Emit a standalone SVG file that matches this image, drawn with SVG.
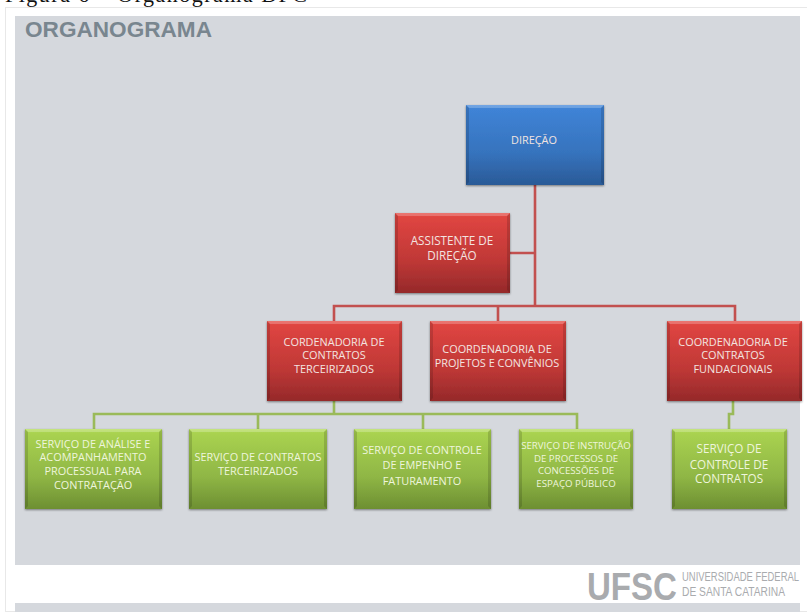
<svg xmlns="http://www.w3.org/2000/svg" width="807" height="612" viewBox="0 0 807 612">
<defs>
<linearGradient id="b" x1="0" y1="0" x2="0" y2="1"><stop offset="0" stop-color="#4a8cdc"/><stop offset=".05" stop-color="#3f83d6"/><stop offset=".6" stop-color="#3673bd"/><stop offset="1" stop-color="#2a5a97"/></linearGradient>
<linearGradient id="r" x1="0" y1="0" x2="0" y2="1"><stop offset="0" stop-color="#e65048"/><stop offset=".05" stop-color="#df4541"/><stop offset=".6" stop-color="#bf3836"/><stop offset="1" stop-color="#95292a"/></linearGradient>
<linearGradient id="g" x1="0" y1="0" x2="0" y2="1"><stop offset="0" stop-color="#b5dc5c"/><stop offset=".05" stop-color="#a9d250"/><stop offset=".6" stop-color="#8fb645"/><stop offset="1" stop-color="#6d8f32"/></linearGradient>
<filter id="s" x="-5%" y="-5%" width="110%" height="112%"><feDropShadow dx="0" dy="1" stdDeviation="1" flood-color="#000" flood-opacity=".45"/></filter>
</defs>
<style>
text{font-family:"Open Sans","Liberation Sans",sans-serif;text-anchor:middle;font-size:10.9px;fill:#f3e4e0}
.gt{fill:#eef5dc}
.cr{fill:none;stroke:#c2504f;stroke-width:2.6}
.cg{fill:none;stroke:#9aba59;stroke-width:2.6}
.top{fill:#fff;fill-opacity:.22}
.side{fill:#000;fill-opacity:.14}
.lg{font-family:"Liberation Sans",sans-serif;text-anchor:start;fill:#a9abae}
</style>
<rect width="807" height="612" fill="#fff"/>
<rect x="5.500" y="7.500" width="802" height="604" fill="#fff" stroke="#e8e8e8"/>
<text x="5" y="2" textLength="302" lengthAdjust="spacing" style="font-family:'Liberation Serif',serif;font-size:22px;text-anchor:start;fill:#111">Figura 6 – Organograma DPC</text>
<rect x="15" y="16" width="785" height="549" fill="#d5d8dd"/>
<rect x="15" y="603" width="785" height="9" fill="#d5d8dd"/>
<text x="25" y="37" textLength="187" lengthAdjust="spacingAndGlyphs" style="font-family:'Liberation Sans',sans-serif;font-weight:700;font-size:22.500px;text-anchor:start;fill:#79868f">ORGANOGRAMA</text>
<g id="logo">
<text class="lg" x="587" y="600" textLength="90" lengthAdjust="spacingAndGlyphs" style="font-weight:700;font-size:39px">UFSC</text>
<text class="lg" x="682" y="581" textLength="117" lengthAdjust="spacingAndGlyphs" style="font-size:12.500px">UNIVERSIDADE FEDERAL</text>
<text class="lg" x="682" y="596" textLength="103" lengthAdjust="spacingAndGlyphs" style="font-size:12.500px">DE SANTA CATARINA</text>
</g>
<g id="connectors">
<path class="cr" d="M535 185V306M510 253H535M334 321V306H735V321M498 321V306"/>
<path class="cg" d="M334 401V415M94 429V414H577V429M258 429V414M423 429V414M733 401V414H729V429"/>
</g>
<g id="direcao"><rect x="466" y="105" width="138" height="80" fill="url(#b)" filter="url(#s)"/><path class="top" d="M466 105h138l-3 3h-132z"/><path class="side" d="M466 105l3 3v74l-3 3zM604 105l-3 3v74l3 3z"/><text x="534" y="144">DIREÇÃO</text></g>
<g id="assistente"><rect x="395" y="213" width="115" height="80" fill="url(#r)" filter="url(#s)"/><path class="top" d="M395 213h115l-3 3h-109z"/><path class="side" d="M395 213l3 3v74l-3 3zM510 213l-3 3v74l3 3z"/><text x="452" y="245" style="font-size:11.700px">ASSISTENTE DE</text><text x="452" y="260" style="font-size:11.700px">DIREÇÃO</text></g>
<g id="cord-terceirizados"><rect x="267" y="321" width="135" height="80" fill="url(#r)" filter="url(#s)"/><path class="top" d="M267 321h135l-3 3h-129z"/><path class="side" d="M267 321l3 3v74l-3 3zM402 321l-3 3v74l3 3z"/><text x="334" y="346">CORDENADORIA DE</text><text x="334" y="359">CONTRATOS</text><text x="334" y="373">TERCEIRIZADOS</text></g>
<g id="coord-projetos"><rect x="430" y="321" width="136" height="80" fill="url(#r)" filter="url(#s)"/><path class="top" d="M430 321h136l-3 3h-130z"/><path class="side" d="M430 321l3 3v74l-3 3zM566 321l-3 3v74l3 3z"/><text x="497" y="353">COORDENADORIA DE</text><text x="497" y="367">PROJETOS E CONVÊNIOS</text></g>
<g id="coord-fundacionais"><rect x="667" y="321" width="135" height="80" fill="url(#r)" filter="url(#s)"/><path class="top" d="M667 321h135l-3 3h-129z"/><path class="side" d="M667 321l3 3v74l-3 3zM802 321l-3 3v74l3 3z"/><text x="733" y="346">COORDENADORIA DE</text><text x="733" y="359">CONTRATOS</text><text x="733" y="373">FUNDACIONAIS</text></g>
<g id="serv-analise"><rect x="25" y="429" width="137" height="80" fill="url(#g)" filter="url(#s)"/><path class="top" d="M25 429h137l-3 3h-131z"/><path class="side" d="M25 429l3 3v74l-3 3zM162 429l-3 3v74l3 3z"/><text class="gt" x="93" y="448">SERVIÇO DE ANÁLISE E</text><text class="gt" x="93" y="461">ACOMPANHAMENTO</text><text class="gt" x="93" y="475">PROCESSUAL PARA</text><text class="gt" x="93" y="489">CONTRATAÇÃO</text></g>
<g id="serv-contratos"><rect x="189" y="429" width="138" height="80" fill="url(#g)" filter="url(#s)"/><path class="top" d="M189 429h138l-3 3h-132z"/><path class="side" d="M189 429l3 3v74l-3 3zM327 429l-3 3v74l3 3z"/><text class="gt" x="258" y="461">SERVIÇO DE CONTRATOS</text><text class="gt" x="258" y="475">TERCEIRIZADOS</text></g>
<g id="serv-empenho"><rect x="354" y="429" width="137" height="80" fill="url(#g)" filter="url(#s)"/><path class="top" d="M354 429h137l-3 3h-131z"/><path class="side" d="M354 429l3 3v74l-3 3zM491 429l-3 3v74l3 3z"/><text class="gt" x="422" y="454">SERVIÇO DE CONTROLE</text><text class="gt" x="422" y="469">DE EMPENHO E</text><text class="gt" x="422" y="485">FATURAMENTO</text></g>
<g id="serv-instrucao"><rect x="519" y="429" width="114" height="80" fill="url(#g)" filter="url(#s)"/><path class="top" d="M519 429h114l-3 3h-108z"/><path class="side" d="M519 429l3 3v74l-3 3zM633 429l-3 3v74l3 3z"/><text class="gt" x="576" y="449" style="font-size:9.700px">SERVIÇO DE INSTRUÇÃO</text><text class="gt" x="576" y="462" style="font-size:9.700px">DE PROCESSOS DE</text><text class="gt" x="576" y="474" style="font-size:9.700px">CONCESSÕES DE</text><text class="gt" x="576" y="487" style="font-size:9.700px">ESPAÇO PÚBLICO</text></g>
<g id="serv-controle"><rect x="672" y="429" width="115" height="80" fill="url(#g)" filter="url(#s)"/><path class="top" d="M672 429h115l-3 3h-109z"/><path class="side" d="M672 429l3 3v74l-3 3zM787 429l-3 3v74l3 3z"/><text class="gt" x="729" y="453" style="font-size:11.700px">SERVIÇO DE</text><text class="gt" x="729" y="469" style="font-size:11.700px">CONTROLE DE</text><text class="gt" x="729" y="483" style="font-size:11.700px">CONTRATOS</text></g>
</svg>
